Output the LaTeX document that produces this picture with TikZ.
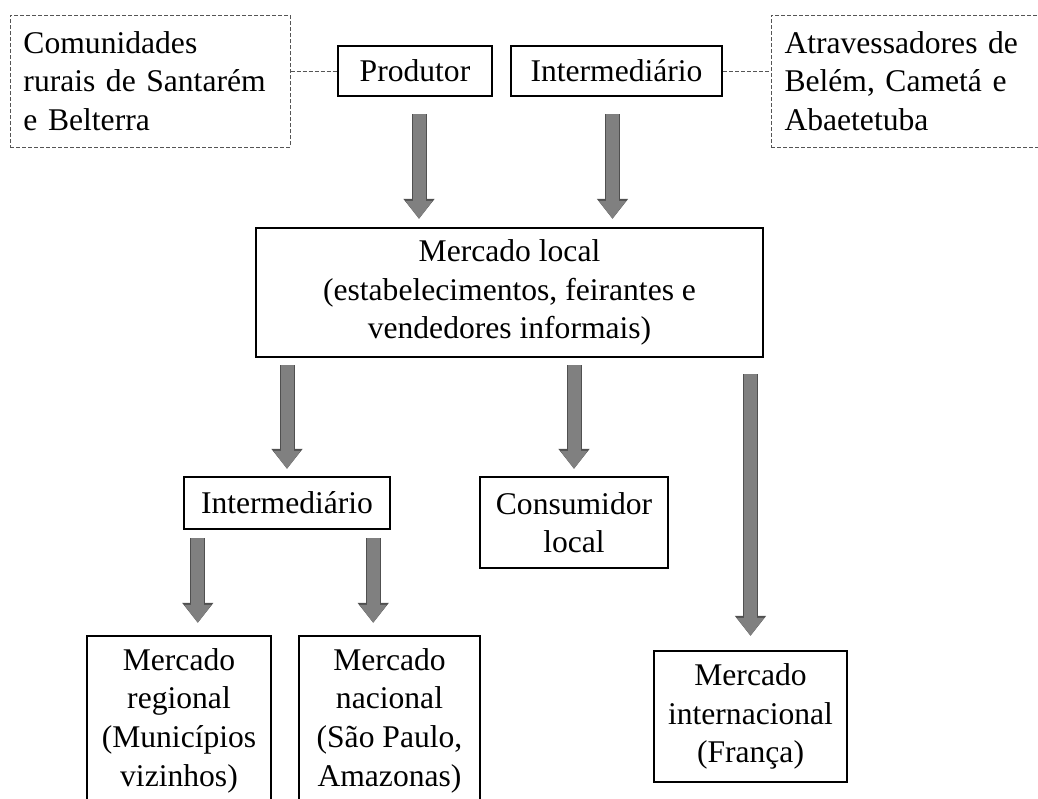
\documentclass[tikz,border=0pt]{standalone}
\usepackage{fontspec}
\setmainfont{Liberation Serif}
\usepackage{tikz}
\usetikzlibrary{arrows.meta,calc}
\definecolor{cgray}{HTML}{808080}
\definecolor{cedge}{HTML}{505050}
\definecolor{cdash}{HTML}{555555}
\newcommand{\spreadline}[1]{\makebox[126.5pt][s]{#1}}

\begin{document}
\begin{tikzpicture}[x=0.5pt,y=-0.5pt,
  font=\fontsize{15.8}{19.3}\selectfont,
  cbox/.style={draw, line width=1.2pt, inner sep=0pt, align=center},
  dbox/.style={draw=cdash, line width=0.5pt, dash pattern=on 2pt off 1pt, inner sep=0pt,
    minimum width=140pt, minimum height=66pt, text width=126.5pt, align=left},
  dline/.style={draw=cdash, line width=0.5pt, dash pattern=on 2pt off 1pt},
  flow/.style={draw=cgray, line width=6.5pt, -{Triangle[width=13pt,length=9pt]},
    preaction={draw=cedge, line width=7.5pt, -{Triangle[width=15pt,length=10pt]}}}]
 \useasboundingbox (0,0) rectangle (1038,798);
 \clip (0,0) rectangle (1038,798);
 \fill[white] (0,0) rectangle (1038,798);
 \node[dbox] (comun) at (150,81) {Comunidades\\ \spreadline{rurais de Santarém}\\ e Belterra};
 \node[dbox] (atrav) at (911,81) {\spreadline{Atravessadores de}\\ \spreadline{Belém, Cametá e}\\ Abaetetuba};
 \node[cbox, minimum width=77pt, minimum height=25pt] (prod) at (415,71) {Produtor};
 \node[cbox, minimum width=105.5pt, minimum height=25pt] (inter1) at (616.5,71) {Intermediário};
 \node[cbox, minimum width=253.5pt, minimum height=64.5pt] (mloc) at (509.5,292.5) {Mercado local\\ (estabelecimentos, feirantes e\\ vendedores informais)};
 \node[cbox, minimum width=103pt, minimum height=26pt] (inter2) at (287,503) {Intermediário};
 \node[cbox, minimum width=94pt, minimum height=45.5pt] (consum) at (574,522.5) {Consumidor\\ local};
 \node[cbox, minimum width=92pt, minimum height=84.5pt] (reg) at (179,720.5) {Mercado\\ regional\\ (Municípios\\ vizinhos)};
 \node[cbox, minimum width=90.5pt, minimum height=84.5pt] (nac) at (389.5,720.5) {Mercado\\ nacional\\ (São Paulo,\\ Amazonas)};
 \node[cbox, minimum width=96.5pt, minimum height=65.5pt] (intl) at (750.5,716.5) {Mercado\\ internacional\\ (França)};
 \draw[dline] (prod.west -| comun.east) -- (prod.west);
 \draw[dline] (inter1.east) -- (inter1.east -| atrav.west);
 \draw[flow, shorten <=8.5pt, shorten >=4pt] ([xshift=2pt]prod.south) -- ([xshift=2pt]prod.south |- mloc.north);
 \draw[flow, shorten <=8.5pt, shorten >=4pt] ([xshift=-2pt]inter1.south) -- ([xshift=-2pt]inter1.south |- mloc.north);
 \draw[flow, shorten <=3.5pt, shorten >=3.5pt] (inter2.north |- mloc.south) -- (inter2.north);
 \draw[flow, shorten <=3.5pt, shorten >=3.5pt] (consum.north |- mloc.south) -- (consum.north);
 \draw[flow, shorten <=8pt, shorten >=7pt] (intl.north |- mloc.south) -- (intl.north);
 \draw[flow, shorten <=4pt, shorten >=6pt] ([xshift=7.5pt]inter2.south west) -- ([xshift=7.5pt]inter2.south west |- reg.north);
 \draw[flow, shorten <=4pt, shorten >=6pt] ([xshift=-9pt]inter2.south east) -- ([xshift=-9pt]inter2.south east |- nac.north);
\end{tikzpicture}
\end{document}
